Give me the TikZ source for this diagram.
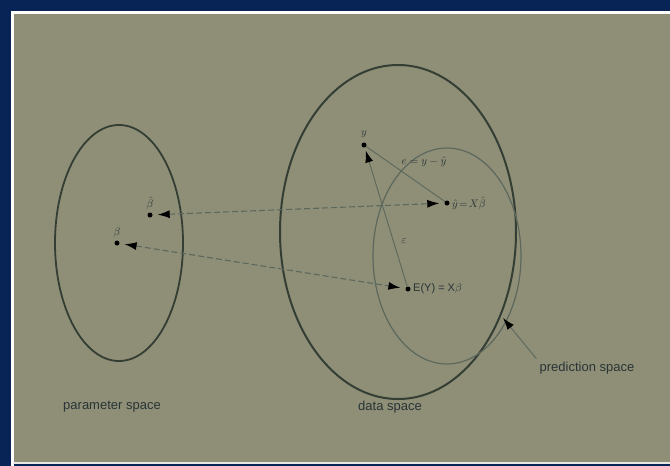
\documentclass[tikz,border=0pt]{standalone}
\usepackage{fontspec}
\setmainfont{Liberation Sans}
\usetikzlibrary{arrows.meta}
\definecolor{navy}{RGB}{8,36,86}
\definecolor{khaki}{RGB}{143,143,119}
\definecolor{ink}{RGB}{52,62,52}
\definecolor{soft}{RGB}{92,104,92}
\definecolor{txt}{RGB}{40,52,54}
\tikzset{
  pt/.style={circle,fill=black,inner sep=0pt,minimum size=5pt},
  lab/.style={text=txt,inner sep=1pt,font=\fontsize{11}{13}\selectfont},
  cap2/.style={text=txt,inner sep=1pt,font=\fontsize{13}{15}\selectfont},
  link/.style={draw=soft,line width=1.1pt,dashed,dash pattern=on 6pt off 3pt,
     {Latex[length=12pt,width=8pt,black]}-{Latex[length=12pt,width=8pt,black]},
     shorten <=5pt, shorten >=5pt},
  thin/.style={draw=soft,line width=0.9pt},
}
\begin{document}
\begin{tikzpicture}[x=1pt,y=-1pt]
\useasboundingbox (0,0) rectangle (670,466);
\fill[navy] (0,0) rectangle (670,466);
\fill[khaki] (13,13) rectangle (672,462);
\draw[white,line width=2.5pt] (12.5,470) -- (12.5,12.5) -- (675,12.5);
\draw[white!80!khaki,line width=2pt] (12.5,463) -- (675,463);
% spaces
\draw[ink,line width=1.8pt] (119,243) ellipse [x radius=64,y radius=118];
\draw[ink,line width=2pt] (398,232) ellipse [x radius=118,y radius=167];
\draw[soft,line width=1.2pt] (447,256) ellipse [x radius=74,y radius=108];
% points
\node[pt] (bhat) at (150,215) {};
\node[lab,above=4pt] (bhatl) at (bhat) {$\hat\beta$};
\node[pt] (beta) at (117,243) {};
\node[lab,above=4pt] (betal) at (beta) {$\beta$};
\node[pt] (yhat) at (447,203) {};
\node[lab,right=4pt] (yhatl) at (yhat) {$\hat y\!=\!X\hat\beta$};
\node[pt] (ey) at (408,289) {};
\node[lab,right=4pt] (eyl) at (ey) {E(Y) = X$\beta$};
\node[pt] (y) at (364,145) {};
\node[lab,above=6pt] (yl) at (y) {$y$};
\coordinate (pp) at (503,318);
% connectors
\draw[link] (bhat) -- (yhat);
\draw[link] (beta) -- (ey);
\draw[thin] (yhat) -- (y);
\draw[thin,-{Latex[length=12pt,width=8pt,black]},shorten >=3pt] (ey) -- (y);
\node[lab] (el) at (424,162) {$e = y - \hat y$};
\node[lab] (epsl) at (404,241) {$\varepsilon$};
% captions
\node[cap2] (ps) at (587,368) {prediction space};
\draw[thin,-{Latex[length=12pt,width=8pt,black]}] (ps.north west) ++(-2,-2) coordinate (psa) (psa) -- (pp);
\node[cap2] (par) at (112,407) {parameter space};
\node[cap2] (ds) at (390,407) {data space};
\end{tikzpicture}
\end{document}
